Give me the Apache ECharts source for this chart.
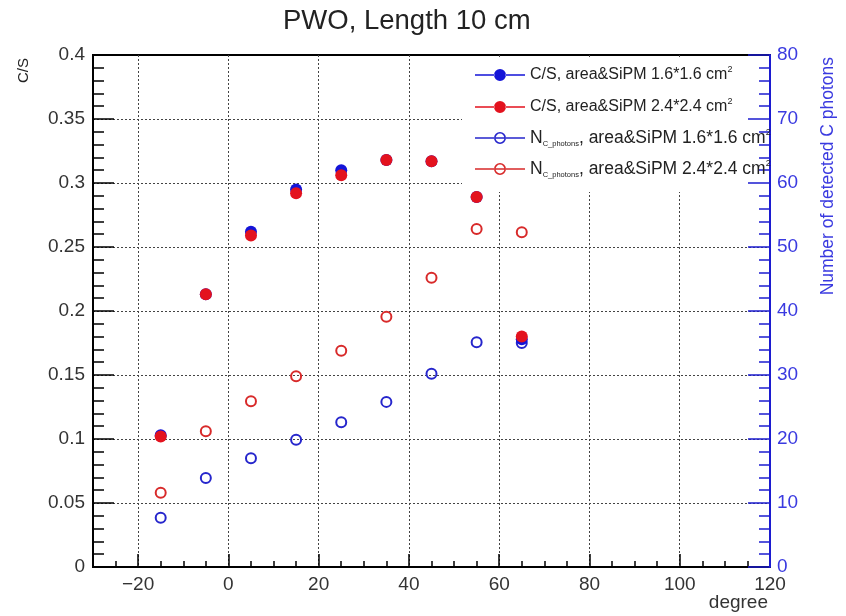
<!DOCTYPE html>
<html>
<head>
<meta charset="utf-8">
<script src="https://cdn.jsdelivr.net/npm/echarts@6/dist/echarts.min.js"></script>
<style>
  html, body { margin: 0; padding: 0; background: #fff; }
  #chart { width: 846px; height: 616px; }
</style>
</head>
<body>
<div id="chart"></div>
<script>
// Cherenkov-to-scintillation ratio and detected Cherenkov photon count vs. beam angle
const FONT = '"Liberation Sans", Arial, Helvetica, sans-serif';

const angles      = [-15, -5, 5, 15, 25, 35, 45, 55, 65];
const csSmall     = [0.103, 0.213, 0.262, 0.295, 0.310, 0.318, 0.317, 0.289, 0.178];
const csLarge     = [0.102, 0.213, 0.259, 0.292, 0.306, 0.318, 0.317, 0.289, 0.180];
const nPhotSmall  = [7.7, 13.9, 17.0, 19.9, 22.6, 25.8, 30.2, 35.1, 35.0];
const nPhotLarge  = [11.6, 21.2, 25.9, 29.8, 33.8, 39.1, 45.2, 52.8, 52.3];

const xLabelValues = [-20, 0, 20, 40, 60, 80, 100, 120];
const xMajorTicks  = [-20, 0, 20, 40, 60, 80, 100];

const seriesNames = [
  'C/S, area&SiPM 1.6*1.6 cm2',
  'C/S, area&SiPM 2.4*2.4 cm2',
  'N_C_photons, area&SiPM 1.6*1.6 cm2',
  'N_C_photons, area&SiPM 2.4*2.4 cm2'
];
const legendLabels = [
  '{t|C/S, area&SiPM 1.6*1.6 cm}{sup|2}',
  '{t|C/S, area&SiPM 2.4*2.4 cm}{sup|2}',
  '{n|N}{sub|C_photons}{n|, area&SiPM 1.6*1.6 cm}{sup|2}',
  '{n|N}{sub|C_photons}{n|, area&SiPM 2.4*2.4 cm}{sup|2}'
];

const BLUE = '#1414d8';
const RED = '#e3121e';
const BLUE_RING = '#2626cc';
const RED_RING = '#d82a2a';
const AXIS_BLUE = '#1c1cd0';
const seriesColors = [BLUE, RED, BLUE_RING, RED_RING];

// legend icons: a line with a filled dot, and a line with an open ring
const ICON_DOT = 'path://M0,5.3L19.5,5.3L19.5,6.7L0,6.7Z M30.5,5.3L50,5.3L50,6.7L30.5,6.7Z M19,6A6,6 0 1,0 31,6A6,6 0 1,0 19,6Z';
const ICON_RING = 'path://M0,5.3L19.2,5.3L19.2,6.7L0,6.7Z M30.8,5.3L50,5.3L50,6.7L30.8,6.7Z ' +
  'M20.7,5.3L29.3,5.3L29.3,6.7L20.7,6.7Z ' +
  'M19,6A6,6 0 1,0 31,6A6,6 0 1,0 19,6Z M20.6,6A4.4,4.4 0 1,1 29.4,6A4.4,4.4 0 1,1 20.6,6Z';

const legendRowsY = [75, 107, 138, 169];

const pairs = (xs, ys) => xs.map((x, i) => [x, ys[i]]);

const tickLine = { color: '#000', width: 1.5 };
const axisText = { fontFamily: FONT, fontSize: 19, color: '#333' };

const chart = echarts.init(document.getElementById('chart'), null, { renderer: 'canvas' });

chart.setOption({
  animation: false,
  backgroundColor: '#fff',
  title: {
    text: 'PWO, Length 10 cm',
    left: 283, top: 7, padding: 0,
    textStyle: { fontFamily: FONT, fontSize: 27.5, fontWeight: 'normal', color: '#222' }
  },
  grid: {
    left: 93, right: 76, top: 55, bottom: 49,
    show: true, borderColor: '#000', borderWidth: 2, backgroundColor: 'rgba(0,0,0,0)'
  },
  legend: seriesNames.map((name, i) => ({
    left: 475, top: legendRowsY[i] - 10, padding: 0,
    selectedMode: false, itemWidth: 50, itemHeight: 12, itemGap: 0, z: 6,
    data: [{
      name: name,
      icon: i < 2 ? ICON_DOT : ICON_RING,
      itemStyle: { color: seriesColors[i], borderWidth: 0, opacity: 1 }
    }],
    formatter: () => legendLabels[i],
    textStyle: {
      rich: {
        t:   { fontFamily: FONT, fontSize: 16, lineHeight: 20, color: '#222' },
        n:   { fontFamily: FONT, fontSize: 17.5, lineHeight: 20, color: '#222' },
        sup: { fontFamily: FONT, fontSize: 9, color: '#222', verticalAlign: 'top' },
        sub: { fontFamily: FONT, fontSize: 7.5, color: '#222', verticalAlign: 'bottom' }
      }
    }
  })),
  xAxis: [
    {
      // data axis: frame line and 5-degree minor ticks
      type: 'value', min: -30, max: 120, interval: 5, position: 'bottom',
      axisLine: { show: true, onZero: false, lineStyle: { color: '#000', width: 2 } },
      axisTick: { show: true, inside: true, length: 6, lineStyle: tickLine },
      axisLabel: { show: false },
      splitLine: { show: false },
      name: 'degree', nameLocation: 'end', nameGap: -2,
      nameTextStyle: Object.assign({ align: 'right', verticalAlign: 'top', padding: [26, 0, 0, 0] }, axisText)
    },
    {
      // major ticks and labels every 20 degrees
      type: 'value', min: -30, max: 120, interval: 10, position: 'bottom',
      axisLine: { show: false, onZero: false },
      axisTick: { show: true, inside: true, length: 13, customValues: xMajorTicks, lineStyle: tickLine },
      axisLabel: Object.assign({
        show: true, margin: 8, customValues: xLabelValues,
        formatter: v => String(v).replace('-', '\u2212')
      }, axisText),
      splitLine: { show: false }
    },
    {
      // dotted vertical grid every 20 degrees
      type: 'value', min: -30, max: 120, interval: 10, position: 'bottom',
      axisLine: { show: false, onZero: false },
      axisTick: { show: false },
      axisLabel: { show: false },
      splitLine: { show: true, lineStyle: { color: ['rgba(0,0,0,0)', '#444'], type: [2, 2], width: 1 } }
    }
  ],
  yAxis: [
    {
      type: 'value', min: 0, max: 0.4, interval: 0.05, position: 'left',
      axisLine: { show: true, onZero: false, lineStyle: { color: '#000', width: 2 } },
      axisTick: { show: true, inside: true, length: 21, lineStyle: tickLine },
      minorTick: { show: true, splitNumber: 5, length: 11, lineStyle: tickLine },
      axisLabel: Object.assign({ margin: 8 }, axisText),
      splitLine: { show: true, showMinLine: false, showMaxLine: false,
                   lineStyle: { color: '#444', type: [2, 2], width: 1 } }
    },
    {
      type: 'value', min: 0, max: 80, interval: 10, position: 'right', z: 3,
      axisLine: { show: true, onZero: false, lineStyle: { color: AXIS_BLUE, width: 2 } },
      axisTick: { show: true, inside: true, length: 22, lineStyle: { color: AXIS_BLUE, width: 1.5 } },
      minorTick: { show: true, splitNumber: 5, length: 11, lineStyle: { color: AXIS_BLUE, width: 1.5 } },
      axisLabel: { margin: 7, fontFamily: FONT, fontSize: 19, color: '#3a3ae0' },
      splitLine: { show: false }
    }
  ],
  graphic: [
    // legend panel background (hides grid lines behind the legend)
    { type: 'rect', z: 1, silent: true, shape: { x: 462, y: 57, width: 306, height: 135 }, style: { fill: '#fff' } },
    { type: 'text', z: 5, x: 24, y: 58, rotation: Math.PI / 2,
      style: { text: 'C/S', font: '15px ' + FONT, fill: '#222', align: 'right', verticalAlign: 'middle' } },
    { type: 'text', z: 5, x: 828, y: 57, rotation: Math.PI / 2,
      style: { text: 'Number of detected C photons', font: '17.5px ' + FONT, fill: '#3a3ae0', align: 'right', verticalAlign: 'middle' } }
  ],
  series: [
    {
      type: 'scatter', name: seriesNames[3], xAxisIndex: 0, yAxisIndex: 1, z: 2,
      data: pairs(angles, nPhotLarge), symbol: 'circle', symbolSize: 10,
      itemStyle: { color: 'rgba(0,0,0,0)', borderColor: RED_RING, borderWidth: 2, opacity: 1 },
      emphasis: { disabled: true }
    },
    {
      type: 'scatter', name: seriesNames[2], xAxisIndex: 0, yAxisIndex: 1, z: 2,
      data: pairs(angles, nPhotSmall), symbol: 'circle', symbolSize: 10,
      itemStyle: { color: 'rgba(0,0,0,0)', borderColor: BLUE_RING, borderWidth: 2, opacity: 1 },
      emphasis: { disabled: true }
    },
    {
      type: 'scatter', name: seriesNames[0], xAxisIndex: 0, yAxisIndex: 0, z: 2,
      data: pairs(angles, csSmall), symbol: 'circle', symbolSize: 12,
      itemStyle: { color: BLUE, opacity: 1 },
      emphasis: { disabled: true }
    },
    {
      type: 'scatter', name: seriesNames[1], xAxisIndex: 0, yAxisIndex: 0, z: 2,
      data: pairs(angles, csLarge), symbol: 'circle', symbolSize: 12,
      itemStyle: { color: RED, opacity: 1 },
      emphasis: { disabled: true }
    }
  ]
});
</script>
</body>
</html>
